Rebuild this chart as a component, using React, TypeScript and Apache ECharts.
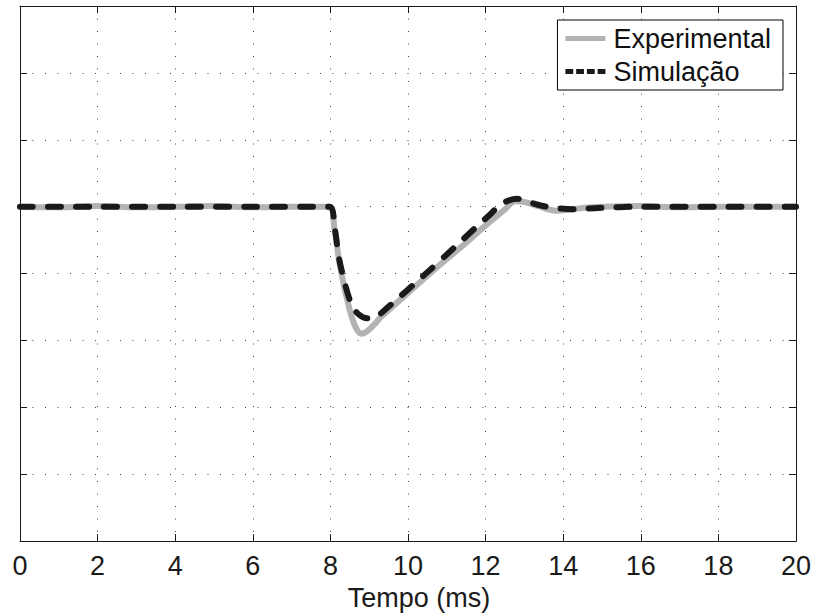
import React, { useEffect, useRef } from "react";
import * as echarts from "echarts";

const xTicks = [0, 2, 4, 6, 8, 10, 12, 14, 16, 18, 20];

const expTime = [0, 1, 2, 3, 4, 5, 6, 7, 7.98, 8.1, 8.25, 8.5, 8.65, 8.8, 8.95, 9.15, 9.3, 10.0, 10.8, 11.5, 12.0, 12.5, 12.75, 13.0, 13.4, 13.8, 14.1, 14.5, 15, 16, 17, 18, 19, 20];
const expValue = [5.0, 4.99, 5.01, 4.99, 5.0, 5.01, 4.99, 5.0, 5.0, 4.7, 4.1, 3.45, 3.2, 3.1, 3.14, 3.25, 3.35, 3.71, 4.12, 4.46, 4.72, 4.96, 5.08, 5.07, 5.0, 4.94, 4.95, 4.98, 5.0, 5.01, 4.99, 5.0, 5.0, 5.0];

const simTime = [0, 2, 4, 6, 7.98, 8.1, 8.25, 8.55, 8.75, 8.95, 9.19, 9.45, 10.48, 11.16, 11.73, 12.11, 12.41, 12.8, 12.95, 13.48, 14.26, 14.9, 16, 18, 20];
const simValue = [5.0, 5.0, 5.0, 5.0, 5.0, 4.72, 4.15, 3.52, 3.38, 3.33, 3.36, 3.48, 4.01, 4.37, 4.68, 4.88, 5.04, 5.12, 5.1, 5.01, 4.96, 4.98, 5.0, 5.0, 5.0];

const seriesNames = ["Experimental", "Simulação"];

const FONT = "'Liberation Sans', Arial, Helvetica, sans-serif";
const DASH_ICON = "path://M0,0h8v5h-8z M11,0h8v5h-8z M22,0h8v5h-8z M33,0h8v5h-8z";

export default function App() {
  const ref = useRef<HTMLDivElement>(null);
  useEffect(() => {
    if (!ref.current) return;
    const chart = echarts.init(ref.current, undefined, { renderer: "svg" });
    const sideAxis = {
      axisLine: { show: true, onZero: false, lineStyle: { color: "#1a1a1a", width: 1 } },
      axisTick: { show: true, inside: true, length: 7, lineStyle: { color: "#1a1a1a" } },
      axisLabel: { show: false },
      splitLine: { show: false },
    };
    chart.setOption({
      animation: false,
      backgroundColor: "#ffffff",
      textStyle: { fontFamily: FONT },
      grid: { left: 20, right: 18, top: 6, bottom: 73, containLabel: false },
      legend: {
        orient: "vertical",
        right: 31,
        top: 20,
        backgroundColor: "#ffffff",
        borderColor: "#000000",
        borderWidth: 1,
        borderRadius: 0,
        padding: [5, 12, 5, 8],
        itemWidth: 40,
        itemHeight: 5,
        itemGap: 6,
        textStyle: { fontSize: 27, color: "#111111", fontFamily: FONT, padding: [0, 0, 0, 3] },
        data: [
          { name: seriesNames[0], icon: "rect", itemStyle: { color: "#b3b3b3" } },
          { name: seriesNames[1], icon: DASH_ICON, itemStyle: { color: "#1a1a1a" } },
        ],
      },
      xAxis: [
        {
          type: "value",
          min: 0,
          max: 20,
          interval: 2,
          position: "bottom",
          axisLine: { show: true, onZero: false, lineStyle: { color: "#1a1a1a", width: 1 } },
          axisTick: { show: true, inside: true, length: 7, lineStyle: { color: "#1a1a1a" } },
          axisLabel: {
            fontSize: 27,
            color: "#1a1a1a",
            margin: 11,
            fontFamily: FONT,
            formatter: (v: number) => (xTicks.includes(v) ? String(v) : ""),
          },
          splitLine: { show: true, lineStyle: { color: "#444444", width: 1, type: [1, 11.5] } },
          name: "Tempo (ms)",
          nameLocation: "middle",
          nameGap: 40,
          nameTextStyle: { fontSize: 27, color: "#1a1a1a", fontFamily: FONT, padding: [0, 0, 0, 22] },
        },
        { type: "value", min: 0, max: 20, interval: 2, position: "top", ...sideAxis },
      ],
      yAxis: [
        {
          type: "value",
          min: 0,
          max: 8,
          interval: 1,
          position: "left",
          axisLine: { show: true, onZero: false, lineStyle: { color: "#1a1a1a", width: 1 } },
          axisTick: { show: true, inside: true, length: 7, lineStyle: { color: "#1a1a1a" } },
          axisLabel: { show: false },
          splitLine: { show: true, lineStyle: { color: "#444444", width: 1, type: [1, 11.5] } },
        },
        { type: "value", min: 0, max: 8, interval: 1, position: "right", ...sideAxis },
      ],
      series: [
        {
          name: seriesNames[0],
          type: "line",
          xAxisIndex: 0,
          yAxisIndex: 0,
          symbol: "none",
          smooth: 0.3,
          data: expTime.map((t, i) => [t, expValue[i]]),
          lineStyle: { color: "#b3b3b3", width: 6, cap: "round", join: "round" },
          itemStyle: { color: "#b3b3b3" },
          z: 2,
        },
        {
          name: seriesNames[1],
          type: "line",
          xAxisIndex: 0,
          yAxisIndex: 0,
          symbol: "none",
          smooth: 0.3,
          data: simTime.map((t, i) => [t, simValue[i]]),
          lineStyle: { color: "#1a1a1a", width: 6, type: [13, 15], cap: "round", join: "round" },
          itemStyle: { color: "#1a1a1a" },
          z: 3,
        },
      ],
    });
    return () => chart.dispose();
  }, []);
  return <div ref={ref} style={{ width: 814, height: 616, position: "absolute", left: 0, top: 0 }} />;
}
